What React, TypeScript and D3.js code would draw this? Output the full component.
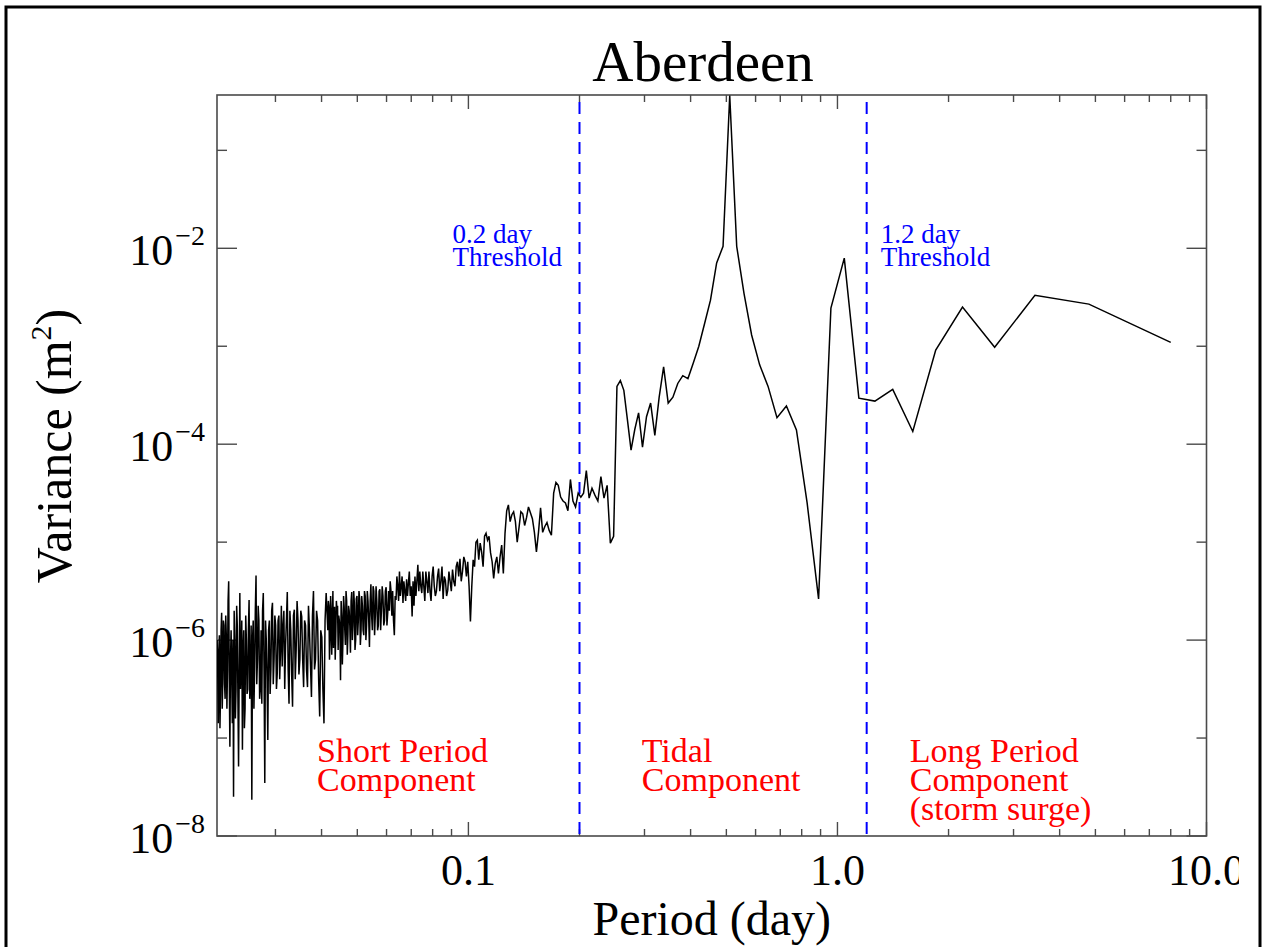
import { useEffect, useRef } from 'react'
import * as d3 from 'd3'

// spectral bins: frequency = (bin + 0.5) / RECORD_DAYS cycles per day, period = 1 / frequency
const RECORD_DAYS = 12

// log10 of variance (m^2), read left to right off the plot; each run ends at endBin
const shortEndBin = 291
const shortBinStep = 2
const shortLogVar = [
  -6.0, -6.3, -6.85, -6.1, -5.95, -6.9, -6.55, -5.9, -5.72, -6.7,
  -6.4, -5.8, -5.85, -6.45, -6.6, -5.75, -5.95, -6.7, -6.3, -5.6,
  -5.4, -6.4, -7.09, -6.2, -5.9, -6.35, -6.85, -6.0, -7.6, -5.7,
  -6.0, -6.8, -6.5, -5.65, -5.85, -6.6, -7.29, -6.3, -5.52, -6.5,
  -6.2, -5.8, -7.12, -6.1, -5.9, -6.9, -6.7, -5.75, -6.0, -6.55,
  -6.5, -5.9, -5.59, -6.6, -6.4, -5.85, -7.63, -6.0, -5.8, -6.7,
  -6.3, -5.7, -5.34, -6.45, -6.2, -5.65, -5.8, -6.6, -6.5, -5.9,
  -6.65, -5.7, -5.52, -6.3, -7.46, -5.8, -6.0, -6.4, -7.02, -5.9,
  -5.8, -6.55, -6.3, -5.7, -5.62, -6.45, -6.2, -5.75, -5.85, -6.5,
  -6.34, -5.8, -5.75, -6.4, -6.1, -5.65, -6.27, -5.85, -5.7, -6.5,
  -6.05, -5.8, -5.51, -6.3, -6.65, -5.7, -5.9, -6.35, -6.68, -5.75,
  -5.69, -6.4, -6.1, -5.6, -5.8, -6.35, -6.2, -5.7, -5.76, -6.2,
  -6.48, -5.8, -5.85, -6.3, -6.48, -5.65, -5.9, -6.25, -6.58, -5.75,
  -5.5, -6.3, -6.2, -5.7, -5.8, -6.4, -6.78, -5.9, -5.97, -6.5,
  -6.85, -5.8, -5.52,
]

const midEndBin = 121
const midBinStep = 1
const midLogVar = [
  -5.9, -5.6, -5.65, -6.2, -6.0, -5.55, -5.72, -6.15, -5.8, -5.5,
  -6.08, -5.7, -5.66, -6.2, -5.95, -5.6, -5.7, -5.65, -6.1, -5.75,
  -5.8, -5.9, -6.41, -5.6, -5.75, -6.25, -6.0, -5.55, -5.66, -5.9,
  -6.05, -5.5, -5.6, -6.15, -5.95, -5.65, -5.7, -5.85, -6.13, -5.6,
  -5.51, -6.0, -5.85, -5.5, -5.62, -6.1, -6.0, -5.58, -5.55, -5.95,
  -5.8, -5.5, -5.58, -6.05, -5.91, -5.55, -5.65, -5.9, -5.95, -5.5,
  -5.55, -6.0, -5.85, -5.5, -5.6, -5.8, -6.07, -5.6, -5.43, -5.75,
  -5.9, -5.45, -5.5, -5.95, -5.75, -5.45, -5.6, -5.9, -5.85, -5.5,
  -5.48, -5.9, -5.7, -5.45, -5.55, -5.85, -5.8, -5.5, -5.46, -5.85,
  -5.72, -5.5, -5.7, -5.4, -5.5, -5.75, -5.5, -5.8, -5.95, -5.55,
  -5.59, -5.35, -5.45, -5.6, -5.3, -5.55, -5.45, -5.35, -5.62, -5.4,
  -5.5, -5.6, -5.38, -5.55, -5.42, -5.3, -5.55, -5.45, -5.76, -5.4,
  -5.65, -5.35, -5.55, -5.4, -5.23, -5.5, -5.3, -5.45, -5.52, -5.3,
  -5.45, -5.6, -5.3, -5.4, -5.52, -5.3, -5.5, -5.6, -5.35, -5.25,
  -5.45, -5.55, -5.5, -5.35, -5.27, -5.5, -5.4, -5.25, -5.58, -5.35,
  -5.39, -5.55, -5.49, -5.3, -5.4, -5.5, -5.28, -5.4, -5.45, -5.25,
  -5.2, -5.35, -5.17, -5.4, -5.3, -5.15, -5.2, -5.35,
]

const longEndBin = 1
const longBinStep = 1
const longLogVar = [
  -5.2, -5.45, -5.81, -5.45, -5.18, -5.25, -5.0, -4.98, -5.18, -5.01,
  -5.1, -5.25, -4.94, -4.91, -4.98, -4.94, -5.11, -5.2, -5.37, -5.22,
  -5.15, -5.32, -5.15, -5.03, -5.32, -4.91, -4.68, -4.62, -4.79, -4.72,
  -4.69, -4.79, -5.0, -4.85, -4.69, -4.71, -4.83, -4.75, -4.64, -4.7,
  -4.76, -4.9, -5.1, -4.9, -4.65, -4.9, -4.84, -4.8, -4.88, -4.93,
  -4.5, -4.39, -4.42, -4.54, -4.58, -4.6, -4.68, -4.36, -4.58, -4.64,
  -4.5, -4.54, -4.5, -4.27, -4.55, -4.45, -4.52, -4.58, -4.33, -4.55,
  -4.42, -5.01, -4.94, -3.41, -3.35, -3.45, -3.75, -4.06, -3.85, -3.68,
  -4.03, -3.72, -3.58, -3.91, -3.52, -3.21, -3.58, -3.52, -3.38, -3.3,
  -3.33, -3.17, -3.0, -2.77, -2.53, -2.15, -1.98, -0.44, -1.98, -2.46,
  -2.885, -3.19, -3.41, -3.73, -3.61, -3.855, -4.6, -5.58, -2.61, -2.1,
  -3.53, -3.56, -3.44, -3.87, -3.04, -2.6, -3.01, -2.48, -2.57, -2.96,
]

const thresholdPeriods = [0.2, 1.2]
const thresholdLabels = [['0.2 day', 'Threshold'], ['1.2 day', 'Threshold']]
const xTickValues = [0.1, 1, 10]
const xTickLabels = ['0.1', '1.0', '10.0']
const yLabelExponents = [-2, -4, -6, -8]
const regionAnchors = [0.0389, 0.295, 1.57]
const regionLabels = [
  ['Short Period', 'Component'],
  ['Tidal', 'Component'],
  ['Long Period', 'Component', '(storm surge)'],
]

const FONT = '"Liberation Serif", "Times New Roman", Times, serif'
const AXIS = '#4a4a4a'

function toPoints(endBin: number, step: number, values: number[]) {
  const startBin = endBin + (values.length - 1) * step
  return values.map((v, i) => {
    const bin = startBin - i * step
    return { period: RECORD_DAYS / (bin + 0.5), variance: Math.pow(10, v) }
  })
}

export default function App() {
  const svgRef = useRef<SVGSVGElement | null>(null)

  useEffect(() => {
    const svgNode = svgRef.current
    if (!svgNode) return

    const width = 1263
    const height = 947
    const margin = { top: 95, right: 56.5, bottom: 111, left: 217 }
    const left = margin.left
    const right = width - margin.right
    const top = margin.top
    const bottom = height - margin.bottom

    const svg = d3.select(svgNode)
    svg.selectAll('*').remove()
    svg.attr('width', width).attr('height', height).attr('viewBox', `0 0 ${width} ${height}`)

    svg.append('rect').attr('width', width).attr('height', height).attr('fill', '#fff')

    const defs = svg.append('defs')
    defs.append('clipPath').attr('id', 'page-clip')
      .append('rect').attr('x', 0).attr('y', 0).attr('width', 1239).attr('height', height)
    defs.append('clipPath').attr('id', 'plot-clip')
      .append('rect').attr('x', left).attr('y', top - 2).attr('width', right - left).attr('height', bottom - top + 2)

    const x = d3.scaleLog().domain([1 / 48, 10]).range([left, right])
    const y = d3.scaleLog().domain([1e-8, Math.pow(10, -0.435)]).range([bottom, top])

    const data = [
      ...toPoints(shortEndBin, shortBinStep, shortLogVar),
      ...toPoints(midEndBin, midBinStep, midLogVar),
      ...toPoints(longEndBin, longBinStep, longLogVar),
    ]

    // frame
    svg.append('rect')
      .attr('x', left).attr('y', top)
      .attr('width', right - left).attr('height', bottom - top)
      .attr('fill', 'none').attr('stroke', AXIS).attr('stroke-width', 1.6)

    // x ticks, top and bottom
    const xTicks = x.ticks().filter(d => d >= 1 / 48 && d <= 10)
    const isDecade = (d: number) => Math.abs(Math.log10(d) - Math.round(Math.log10(d))) < 1e-6
    const xt = svg.append('g').attr('stroke', AXIS).attr('stroke-width', 1.4)
    xTicks.forEach(d => {
      const len = isDecade(d) ? 14 : 7
      xt.append('line').attr('x1', x(d)).attr('x2', x(d)).attr('y1', bottom).attr('y2', bottom - len)
      xt.append('line').attr('x1', x(d)).attr('x2', x(d)).attr('y1', top).attr('y2', top + len)
    })

    // y ticks, left and right
    const yTicks = d3.range(-8, 0).map(e => ({ e, v: Math.pow(10, e) }))
    const yt = svg.append('g').attr('stroke', AXIS).attr('stroke-width', 1.4)
    yTicks.forEach(t => {
      const len = t.e % 2 === 0 ? 20 : 10
      yt.append('line').attr('x1', left).attr('x2', left + len).attr('y1', y(t.v)).attr('y2', y(t.v))
      yt.append('line').attr('x1', right).attr('x2', right - len).attr('y1', y(t.v)).attr('y2', y(t.v))
    })

    // x tick labels
    svg.append('g').attr('clip-path', 'url(#page-clip)')
      .selectAll('text')
      .data(xTickValues)
      .join('text')
      .attr('x', d => x(d))
      .attr('y', 885)
      .attr('text-anchor', 'middle')
      .attr('font-family', FONT)
      .attr('font-size', 44)
      .attr('fill', '#000')
      .text((_, i) => xTickLabels[i])

    // y tick labels
    const yl = svg.append('g').attr('font-family', FONT).attr('fill', '#000')
    yLabelExponents.forEach(e => {
      const t = yl.append('text')
        .attr('x', 205)
        .attr('y', y(Math.pow(10, e)) + 16.5)
        .attr('text-anchor', 'end')
        .attr('font-size', 44)
      t.append('tspan').text('10')
      t.append('tspan').attr('dy', -20).attr('dx', 2).attr('font-size', 28).text(`\u2212${Math.abs(e)}`)
    })

    // thresholds
    svg.append('g')
      .selectAll('line')
      .data(thresholdPeriods)
      .join('line')
      .attr('x1', d => x(d)).attr('x2', d => x(d))
      .attr('y1', top + 7).attr('y2', bottom)
      .attr('stroke', '#0000ff')
      .attr('stroke-width', 2)
      .attr('stroke-dasharray', '12,8')

    thresholdPeriods.forEach((p, i) => {
      const tx = i === 0 ? x(p) - 127 : x(p) + 14
      const t = svg.append('text')
        .attr('font-family', FONT).attr('font-size', 27).attr('fill', '#0000ff')
      thresholdLabels[i].forEach((line, j) => {
        t.append('tspan').attr('x', tx).attr('y', 243 + j * 23).text(line)
      })
    })

    // spectrum
    const line = d3.line<{ period: number, variance: number }>()
      .x(d => x(d.period))
      .y(d => y(d.variance))

    svg.append('path')
      .datum(data)
      .attr('clip-path', 'url(#plot-clip)')
      .attr('d', line)
      .attr('fill', 'none')
      .attr('stroke', '#000')
      .attr('stroke-width', 1.5)

    // region labels
    regionAnchors.forEach((p, i) => {
      const t = svg.append('text')
        .attr('font-family', FONT).attr('font-size', 34).attr('fill', '#ff0000')
      regionLabels[i].forEach((line, j) => {
        t.append('tspan').attr('x', x(p)).attr('y', 762 + j * 29).text(line)
      })
    })

    // titles
    svg.append('text')
      .attr('x', 703).attr('y', 81)
      .attr('text-anchor', 'middle')
      .attr('font-family', FONT).attr('font-size', 57)
      .text('Aberdeen')

    svg.append('text')
      .attr('x', (left + right) / 2).attr('y', 935)
      .attr('text-anchor', 'middle')
      .attr('font-family', FONT).attr('font-size', 48)
      .text('Period (day)')

    const yTitle = svg.append('text')
      .attr('transform', 'translate(71,446) rotate(-90)')
      .attr('text-anchor', 'middle')
      .attr('font-family', FONT).attr('font-size', 50)
    yTitle.append('tspan').text('Variance (m')
    yTitle.append('tspan').attr('dy', -20).attr('font-size', 30).text('2')
    yTitle.append('tspan').attr('dy', 20).text(')')

    // outer border
    svg.append('rect')
      .attr('x', 6).attr('y', 7)
      .attr('width', 1254).attr('height', 980)
      .attr('fill', 'none').attr('stroke', '#000').attr('stroke-width', 3)
  }, [])

  return (
    <div style={{ position: 'absolute', left: 0, top: 0 }}>
      <svg ref={svgRef} style={{ display: 'block' }} />
    </div>
  )
}
